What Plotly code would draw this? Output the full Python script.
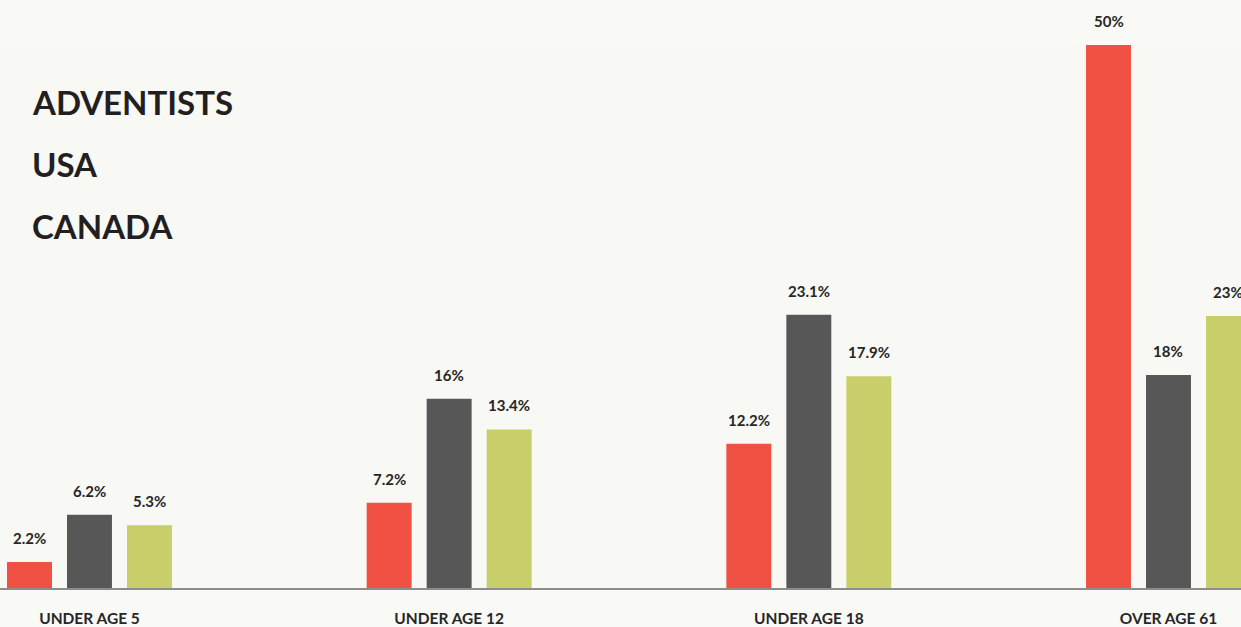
import plotly.graph_objects as go

# Age-group shares (%)
categories = ["UNDER AGE 5", "UNDER AGE 12", "UNDER AGE 18", "OVER AGE 61"]
series_names = ["ADVENTISTS", "USA", "CANADA"]
adventists = [2.2, 7.2, 12.2, 50]
usa = [6.2, 16, 23.1, 18]
canada = [5.3, 13.4, 17.9, 23]
value_labels = [
    ["2.2%", "7.2%", "12.2%", "50%"],
    ["6.2%", "16%", "23.1%", "18%"],
    ["5.3%", "13.4%", "17.9%", "23%"],
]

colors = ["#f05142", "#575757", "#c8cf6a"]
text_color = "#262626"
font_family = "Lato, 'Noto Sans', sans-serif"

W, H = 1241, 627
M_TOP, M_BOT = 45, 39
Y_MAX = 45.9
BARGAP = 0.4996
BARGROUPGAP = 0.2506

fig = go.Figure()
x_idx = list(range(len(categories)))
all_values = [adventists, usa, canada]
for name, vals, col in zip(series_names, all_values, colors):
    fig.add_trace(go.Bar(
        x=x_idx, y=vals, name=name,
        marker=dict(color=col, line=dict(width=0)),
        showlegend=False,
    ))

# value labels above each bar (capped at the top of the axis)
pitch = (1 - BARGAP) / len(series_names)
annotations = []
for s, vals in enumerate(all_values):
    offset = (s - (len(series_names) - 1) / 2) * pitch
    for i, v in enumerate(vals):
        annotations.append(dict(
            x=i + offset, y=min(v, Y_MAX), xref="x", yref="y",
            text=value_labels[s][i], showarrow=False,
            yanchor="middle", yshift=24,
            font=dict(family=font_family, size=15, color=text_color, weight="bold"),
        ))

# series names block at top left (pixel positions -> paper fractions)
plot_h = H - M_TOP - M_BOT
for k, name in enumerate(series_names):
    y_px = 102 + 62 * k
    annotations.append(dict(
        x=30 / W, y=(H - y_px - M_BOT) / plot_h, xref="paper", yref="paper",
        text=name, showarrow=False, xanchor="left", yanchor="middle",
        font=dict(family=font_family, size=33, color="#231f20", weight="bold"),
    ))

fig.update_layout(
    width=W, height=H,
    margin=dict(l=0, r=0, t=M_TOP, b=M_BOT, autoexpand=False),
    paper_bgcolor="#f9f9f6",
    plot_bgcolor="#f8f8f4",
    barmode="group",
    bargap=BARGAP,
    bargroupgap=BARGROUPGAP,
    annotations=annotations,
    xaxis=dict(
        range=[-0.2488, 3.2016],
        tickvals=x_idx, ticktext=categories,
        showgrid=False, zeroline=False, automargin=False,
        showline=True, linecolor="#8c8c8c", linewidth=1.5,
        ticks="", ticklabelstandoff=16,
        tickfont=dict(family=font_family, size=15.5, color=text_color, weight="bold"),
    ),
    yaxis=dict(
        range=[0, Y_MAX], visible=False, showgrid=False, zeroline=False,
        automargin=False,
    ),
)

fig.write_html("out.html")
